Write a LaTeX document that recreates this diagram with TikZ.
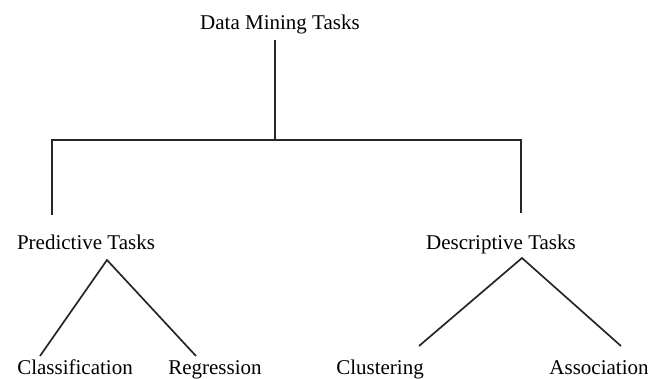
\documentclass[tikz,border=0pt]{standalone}
\usepackage{fontspec}
\setmainfont{Liberation Serif}
\begin{document}
\begin{tikzpicture}[x=1pt,y=-1pt,
  lbl/.style={inner sep=0pt, anchor=base, font=\fontsize{21}{24}\selectfont},
  conn/.style={line width=1.7pt, draw=black!85}]
\useasboundingbox (0,0) rectangle (662,378);
\node[lbl] (dm) at (280,29) {Data Mining Tasks};
\node[lbl] (pt) at (86,249) {Predictive Tasks};
\node[lbl] (dt) at (501,249) {Descriptive Tasks};
\node[lbl] (cl) at (75,374) {Classification};
\node[lbl] (rg) at (215,374) {Regression};
\node[lbl] (cu) at (380,374) {Clustering};
\node[lbl] (as) at (599,374) {Association};
\coordinate (dmb) at (275,40);
\coordinate (jc) at (275,140);
\coordinate (jl) at (52,140);
\coordinate (jr) at (521,140);
\coordinate (ptt) at (52,215);
\coordinate (dtt) at (521,213);
\coordinate (pa) at (107,260);
\coordinate (pl) at (40,356);
\coordinate (pr) at (196,356);
\coordinate (da) at (522,258);
\coordinate (dl) at (419,346);
\coordinate (dr) at (621,346);
\draw[conn] (dmb) -- (jc);
\draw[conn] (ptt) -- (jl) -- (jr) -- (dtt);
\draw[conn] (pl) -- (pa) -- (pr);
\draw[conn] (dl) -- (da) -- (dr);
\end{tikzpicture}
\end{document}
